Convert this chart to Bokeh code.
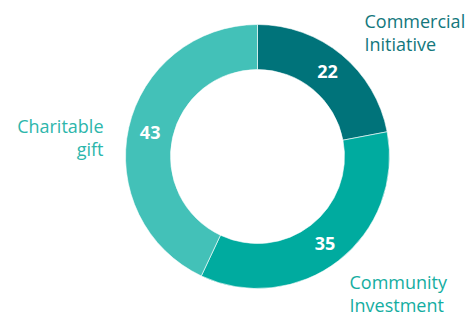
import numpy as np
from bokeh.plotting import figure
from bokeh.models import ColumnDataSource, Range1d
from bokeh.core.properties import value
from bokeh.embed import file_html
from bokeh.resources import INLINE

# ---- data ----
categories = ["Commercial Initiative", "Community Investment", "Charitable gift"]
values = [22, 35, 43]
slice_colors = ["#00737A", "#00AB9F", "#43C1B8"]
label_colors = ["#13777C", "#14ADA1", "#2DB6AB"]
label_texts = ["Commercial\nInitiative", "Community\nInvestment", "Charitable\ngift"]

# ---- layout (pixels) ----
W, H = 473, 317
CX, CY = 257, 161
R_OUT, R_IN = 132, 87
R_VAL = 110
label_x = [364, 349, 103]
label_y = [285, 24, 180]
label_align = ["left", "left", "right"]

vals = np.array(values, dtype=float)
frac = vals / vals.sum()
cum = np.concatenate([[0], np.cumsum(frac)])
start = np.pi / 2 - 2 * np.pi * cum[:-1]
end = np.pi / 2 - 2 * np.pi * cum[1:]
mid = (start + end) / 2

src = ColumnDataSource(dict(
    start=start, end=end, color=slice_colors,
    vx=CX + R_VAL * np.cos(mid), vy=CY + R_VAL * np.sin(mid),
    vtext=[str(v) for v in values],
    lx=label_x, ly=label_y, ltext=label_texts, lcolor=label_colors, lalign=label_align,
))

p = figure(width=W, height=H, output_backend="svg", toolbar_location=None,
           x_range=Range1d(0, W), y_range=Range1d(0, H), min_border=0,
           outline_line_color=None)
p.axis.visible = False
p.grid.visible = False

p.annular_wedge(x=CX, y=CY, inner_radius=R_IN, outer_radius=R_OUT,
                start_angle="start", end_angle="end", direction="clock",
                fill_color="color", line_color="white", line_width=0.6, source=src)

p.text(x="vx", y="vy", text="vtext", source=src, text_color="white",
       text_font=value("Open Sans"), text_font_style="bold", text_font_size="18px",
       text_align="center", text_baseline="middle")

p.text(x="lx", y="ly", text="ltext", source=src, text_color="lcolor",
       text_font=value("Open Sans"), text_font_size="18px", text_align="lalign",
       text_baseline="middle", text_line_height=0.98)

open("out.html", "w").write(file_html(p, INLINE))
